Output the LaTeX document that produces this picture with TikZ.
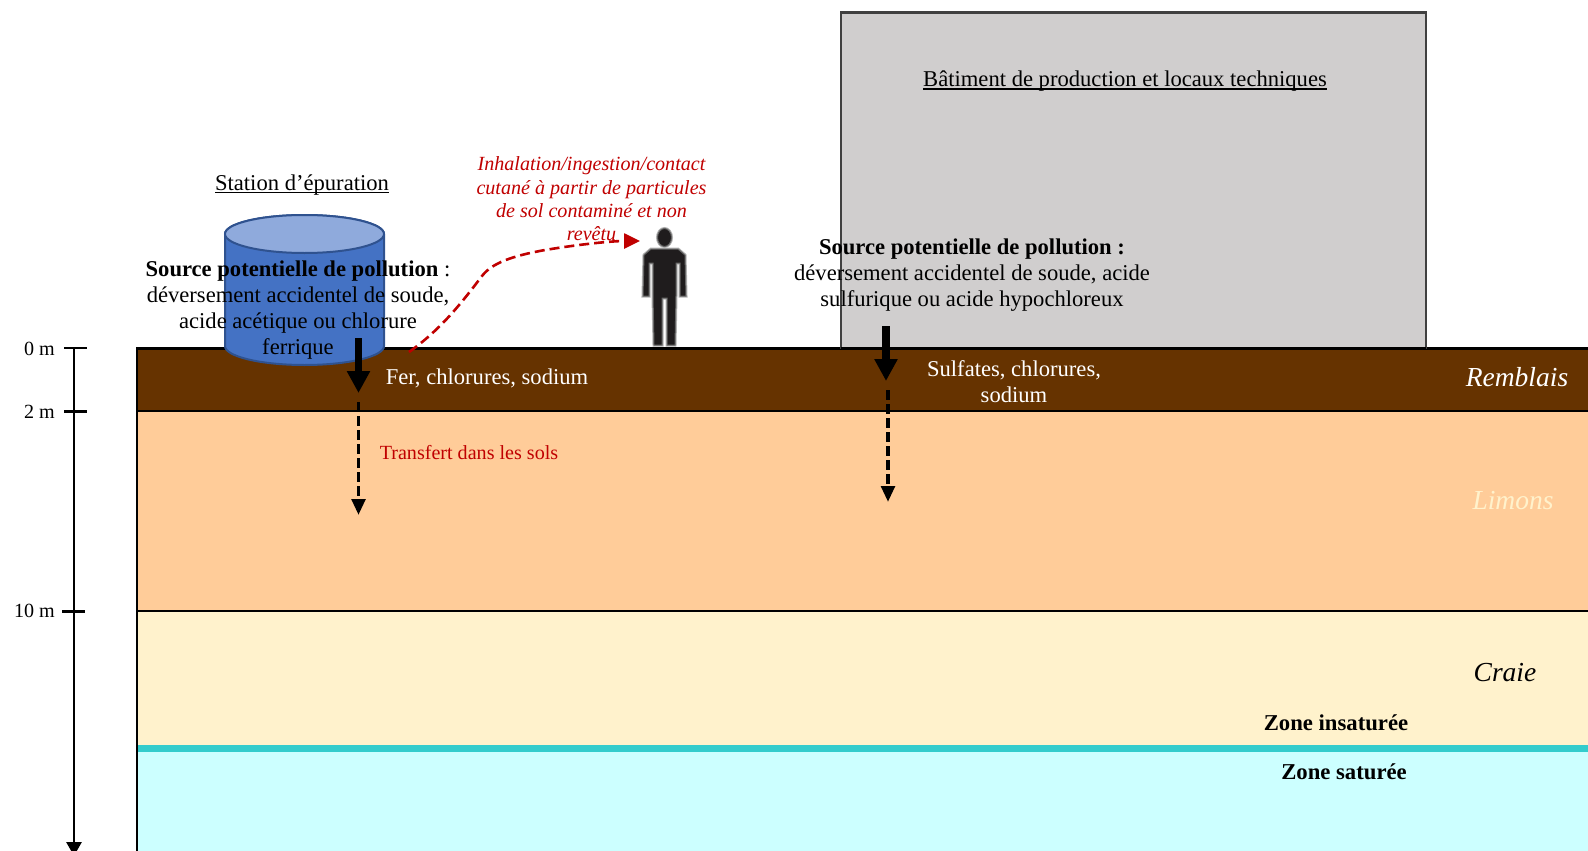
\documentclass[tikz,border=0pt]{standalone}
\usepackage{fontspec}
\setmainfont{Liberation Serif}
\usetikzlibrary{arrows.meta}
\definecolor{remblais}{HTML}{663300}
\definecolor{limons}{HTML}{FFCC99}
\definecolor{craie}{HTML}{FFF2CC}
\definecolor{nappe}{HTML}{CCFFFF}
\definecolor{toitnappe}{HTML}{33CCCC}
\definecolor{batiment}{HTML}{D0CECE}
\definecolor{batbord}{HTML}{404040}
\definecolor{cuve}{HTML}{4472C4}
\definecolor{cuvehaut}{HTML}{8FAADC}
\definecolor{cuvebord}{HTML}{2F528F}
\definecolor{rouge}{HTML}{C00000}
\definecolor{silhouette}{HTML}{1F1C1D}
% Underline sitting close under the baseline
\newsavebox\ulbox
\newcommand{\ulined}[1]{\sbox\ulbox{#1}\usebox\ulbox\llap{\rule[-2.8pt]{\wd\ulbox}{1.3pt}}}
\tikzset{
  lbl/.style={inner sep=0pt,align=center,font=\fontsize{22.6}{26}\selectfont},
  lblsmall/.style={inner sep=0pt,align=center,font=\fontsize{20.1}{24}\selectfont},
  redital/.style={inner sep=0pt,align=center,text=rouge,font=\fontsize{20.1}{23.4}\selectfont\itshape},
  layername/.style={inner sep=0pt,font=\fontsize{27.5}{30}\selectfont\itshape},
  zonename/.style={inner sep=0pt,font=\fontsize{22.7}{26}\selectfont\bfseries},
  boundary/.style={line width=2.8pt,black},
  flowsolid/.style={line width=7.5pt,black,-{Triangle[length=22pt,width=22pt]}},
  flowdash/.style={line width=3.8pt,black,dash pattern=on 10pt off 4pt,-{Triangle[length=16pt,width=13.5pt]}},
  tick/.style={line width=2.8pt,black},
}
\begin{document}
\begin{tikzpicture}[x=1pt,y=-1pt]
\useasboundingbox (0,0) rectangle (1588,851);
% Soil layers
\fill[remblais] (137,348.5) rectangle (1588,411);
\fill[limons] (137,411) rectangle (1588,611);
\fill[craie] (137,611) rectangle (1588,746);
\fill[nappe] (137,746) rectangle (1588,851);
\fill[toitnappe] (137,744.5) rectangle (1588,752);
\draw[boundary] (137,851) -- (137,348.5) -- (1588,348.5);
\draw[boundary] (137,411) -- (1588,411);
\draw[boundary] (137,611) -- (1588,611);
% Building
\draw[batbord,fill=batiment,line width=2.6pt] (841,12.5) rectangle (1426,348);
\draw[boundary] (841,348.5) -- (1426,348.5);
% Tank
\draw[cuvebord,fill=cuve,line width=2pt] (225,234) -- (225,346) arc[start angle=180,end angle=360,x radius=79.5pt,y radius=19pt] -- (384,234) arc[start angle=0,end angle=180,x radius=79.5pt,y radius=19pt] -- cycle;
\draw[cuvebord,fill=cuvehaut,line width=2pt] (304.5,234) ellipse[x radius=79.5pt,y radius=19pt];
% Person: soft grey edge under a dark core
\foreach \w/\c in {3pt/black!30,1pt/black!60}{
  \draw[\c,line width=\w,fill=silhouette] (664.5,237.5) ellipse[x radius=7pt,y radius=9pt];
  \draw[\c,line width=\w,fill=silhouette] (651,249) -- (678,249) -- (685,255) -- (686,296) -- (680,296) -- (680,263) -- (676,263) -- (676,296) -- (675,345) -- (667,345) -- (667,298) -- (662,298) -- (662,345) -- (654,345) -- (653,296) -- (653,263) -- (649,263) -- (649,296) -- (643,296) -- (644,255) -- cycle;
}
% Depth scale
\coordinate (axistop) at (74,348);
\coordinate (axisend) at (74,856);
\draw[line width=2.8pt,black,-{Triangle[length=14pt,width=15pt]}] (axistop) -- (axisend);
\draw[tick] (64,348) -- (87,348);
\draw[tick] (64,411.5) -- (86.5,411.5);
\draw[tick] (62,611.5) -- (85,611.5);
\node[lblsmall] (d0) at (39.5,349) {0 m};
\node[lblsmall] (d2) at (39.5,412) {2 m};
\node[lblsmall] (d10) at (34.5,611) {10 m};
% Texts
\node[lbl] (station) at (302,185) {\ulined{Station d’épuration}};
\node[lbl] (title) at (1125,81.5) {\ulined{Bâtiment de production et locaux techniques}};
\node[redital] (inhal) at (591.5,199) {Inhalation/ingestion/contact\\cutané à partir de particules\\de sol contaminé et non\\revêtu};
\node[lbl] (srcA) at (298,310) {\textbf{Source potentielle de pollution} :\\déversement accidentel de soude,\\acide acétique ou chlorure\\ferrique};
\node[lbl] (srcB) at (972,275) {\textbf{Source potentielle de pollution :}\\déversement accidentel de soude, acide\\sulfurique ou acide hypochloreux};
\node[lbl,text=white] (polA) at (487,378.5) {Fer, chlorures, sodium};
\node[lbl,text=white] (polB) at (1014,382) {Sulfates, chlorures,\\sodium};
\node[lblsmall,text=rouge] (transfert) at (469,452.5) {Transfert dans les sols};
\node[layername,text=white] (rem) at (1517,377) {Remblais};
\node[layername,text=craie] (lim) at (1513,500.5) {Limons};
\node[layername] (cra) at (1505,673) {Craie};
\node[zonename] (zi) at (1336,723) {Zone insaturée};
\node[zonename] (zs) at (1344,772) {Zone saturée};
% Transfer arrows
\coordinate (a1) at (358.5,338);
\coordinate (a2) at (358.5,393);
\coordinate (a3) at (358.5,402);
\coordinate (a4) at (358.5,515);
\coordinate (b1) at (886,326);
\coordinate (b2) at (886,381);
\coordinate (b3) at (888,390);
\coordinate (b4) at (888,502);
\draw[flowsolid] (a1) -- (a2);
\draw[flowdash] (a3) -- (a4);
\draw[flowsolid] (b1) -- (b2);
\draw[flowdash] (b3) -- (b4);
% Exposure path towards the person
\coordinate (e1) at (409,352);
\coordinate (e2) at (640,241);
\draw[rouge,line width=2.6pt,dash pattern=on 10pt off 5pt,-{Triangle[length=16pt,width=15pt]}] (e1) .. controls (440,330) and (460,305) .. (482,276) .. controls (492,263) and (512,256) .. (545,250) .. controls (575,245) and (610,241) .. (e2);
\end{tikzpicture}
\end{document}
